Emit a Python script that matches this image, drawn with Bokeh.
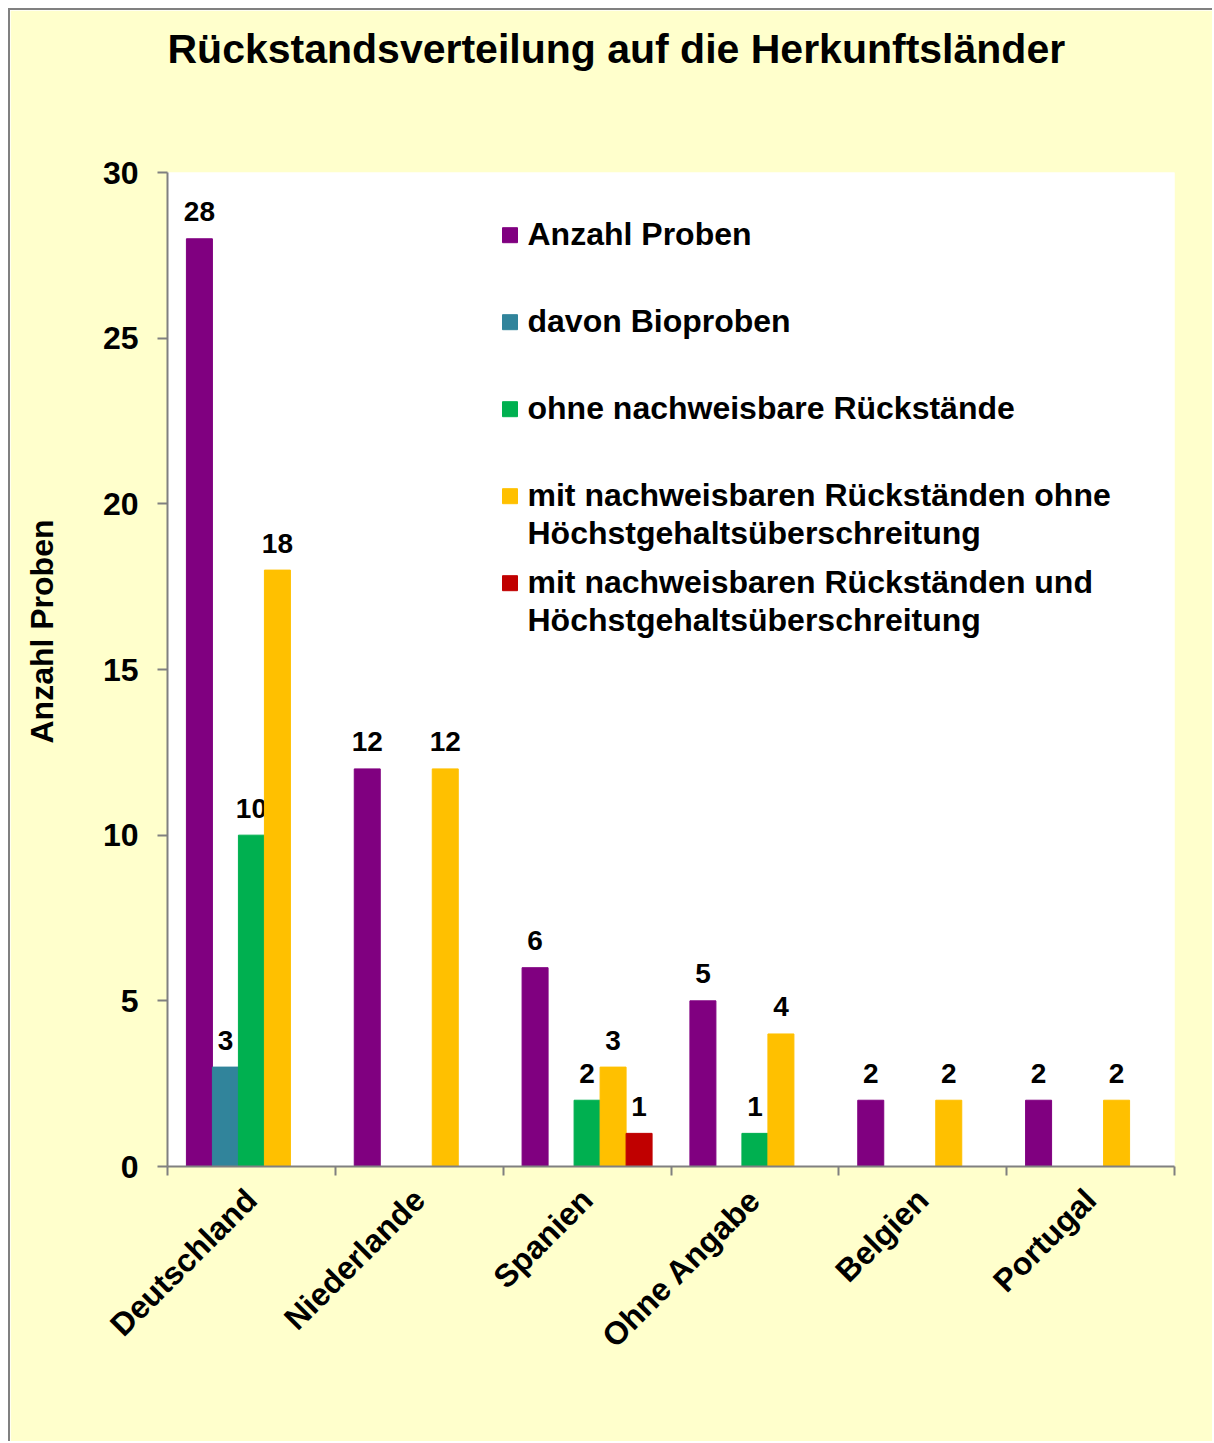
import numpy as np
from bokeh.plotting import figure
from bokeh.models import (ColumnDataSource, Range1d, FixedTicker, SingleIntervalTicker,
                          CustomJSTickFormatter, Title)
from bokeh.core.properties import value
from bokeh.embed import file_html
from bokeh.resources import INLINE

# ---------------- data ----------------
categories = ["Deutschland", "Niederlande", "Spanien", "Ohne Angabe", "Belgien", "Portugal"]
series_names = [
    "Anzahl Proben",
    "davon Bioproben",
    "ohne nachweisbare Rückstände",
    "mit nachweisbaren Rückständen ohne\nHöchstgehaltsüberschreitung",
    "mit nachweisbaren Rückständen und\nHöchstgehaltsüberschreitung",
]
anzahl_proben = [28, 12, 6, 5, 2, 2]
bioproben = [3, 0, 0, 0, 0, 0]
ohne_rueckstaende = [10, 0, 2, 1, 0, 0]
mit_ohne_hgue = [18, 12, 3, 4, 2, 2]
mit_und_hgue = [0, 0, 1, 0, 0, 0]
series_values = [anzahl_proben, bioproben, ohne_rueckstaende, mit_ohne_hgue, mit_und_hgue]
colors = ["#800080", "#31849B", "#00B050", "#FFC000", "#C00000"]
title_text = "Rückstandsverteilung auf die Herkunftsländer"
y_label = "Anzahl Proben"

FONT = value("Liberation Sans")
YMAX = 30

# ---------------- figure ----------------
W, H = 1204, 1433
ML, MR, MT, MB = 157, 40, 162, 277
p = figure(width=W, height=H, x_range=Range1d(0, len(categories)), y_range=Range1d(0, YMAX),
           output_backend="svg", toolbar_location=None,
           min_border_left=ML, min_border_right=MR, min_border_top=MT, min_border_bottom=MB)
p.title_location = None
p.margin = (8, 0, 0, 8)
p.styles = {"border-top": "2px solid #808080", "border-left": "2px solid #808080"}
p.border_fill_color = "#FFFFCC"
p.background_fill_color = "white"
p.outline_line_color = None
p.grid.visible = False

frame_w = W - ML - MR
frame_h = H - MT - MB


def dx(px):  # pixel distance (horizontal) in data units
    return px / frame_w * len(categories)


def dy(px):  # pixel distance (vertical) in data units
    return px / frame_h * YMAX


# ---------------- title (spacer + main title, stacked outward from frame) ----------------
p.add_layout(Title(text=" ", text_font_size="10px", standoff=71), "above")
p.add_layout(Title(text=title_text, align="left", vertical_align="top", offset=0, standoff=30,
                   text_font="Liberation Sans", text_font_style="bold", text_font_size="41px",
                   text_color="black"), "above")

# ---------------- bars ----------------
n = len(series_values)
bar_w = dx(26)
centers = np.arange(len(categories)) + 0.5
for i, (vals, col) in enumerate(zip(series_values, colors)):
    off = (i - (n - 1) / 2) * bar_w
    xs = [c + off for c, v in zip(centers, vals) if v > 0]
    ys = [v for v in vals if v > 0]
    src = ColumnDataSource(dict(x=xs, top=ys, lab=[str(v) for v in ys]))
    p.vbar(x="x", top="top", bottom=0, width=bar_w, source=src, fill_color=col, line_color=col)
    p.text(x="x", y="top", text="lab", source=src, text_align="center", text_baseline="alphabetic",
           y_offset=-27, text_font=FONT, text_font_style="bold", text_font_size="28px", text_color="black")

# ---------------- axes ----------------
for ax in (p.xaxis[0], p.yaxis[0]):
    ax.axis_line_color = "#808080"
    ax.axis_line_width = 2
    ax.major_tick_line_color = "#808080"
    ax.major_tick_line_width = 2
    ax.minor_tick_line_color = "#808080"
    ax.minor_tick_line_width = 2
    ax.major_label_text_font = "Liberation Sans"
    ax.major_label_text_font_style = "bold"
    ax.major_label_text_color = "black"

p.yaxis.ticker = SingleIntervalTicker(interval=5, num_minor_ticks=0)
p.yaxis.major_tick_in = 0
p.yaxis.major_tick_out = 10
p.yaxis.minor_tick_out = 0
p.yaxis.major_label_standoff = 19
p.yaxis.major_label_text_font_size = "32px"

p.xaxis.ticker = FixedTicker(ticks=list(centers), minor_ticks=list(range(len(categories) + 1)))
p.xaxis.major_tick_in = 0
p.xaxis.major_tick_out = 0
p.xaxis.minor_tick_in = 0
p.xaxis.minor_tick_out = 9
p.xaxis.formatter = CustomJSTickFormatter(args=dict(cats=categories),
                                          code="return cats[Math.floor(tick)] || '';")
p.xaxis.major_label_orientation = np.pi / 4
p.xaxis.major_label_standoff = 19
p.xaxis.major_label_text_font_size = "32px"

# ---------------- y label (spacer + side title) ----------------
p.add_layout(Title(text=" ", text_font_size="10px", standoff=12), "left")
p.add_layout(Title(text=y_label, align="left", vertical_align="top", offset=423, standoff=26,
                   text_font="Liberation Sans", text_font_style="bold", text_font_size="32px",
                   text_color="black"), "left")

# ---------------- legend (manual) ----------------
leg_sq_x = dx(509.5 - 167)
leg_tx_x = dx(527 - 167)
first_y = YMAX - dy(234.7 - 172)
step = dy(87)
line_gap = 37.5
sq_x, sq_y, tx_x, tx_y, tx_t, tx_off = [], [], [], [], [], []
for i, name in enumerate(series_names):
    yc = first_y - i * step
    sq_x.append(leg_sq_x)
    sq_y.append(yc)
    for j, line in enumerate(name.split("\n")):
        tx_x.append(leg_tx_x)
        tx_y.append(yc)
        tx_t.append(line)
        tx_off.append(-1 + j * line_gap)
p.scatter(x=sq_x, y=sq_y, marker="square", size=15, fill_color=colors, line_color=colors)
p.text(x=tx_x, y=tx_y, text=tx_t, y_offset=tx_off, text_align="left", text_baseline="alphabetic",
       text_font=FONT, text_font_style="bold", text_font_size="32px", text_color="black")

open("out.html", "w").write(file_html(p, INLINE))
